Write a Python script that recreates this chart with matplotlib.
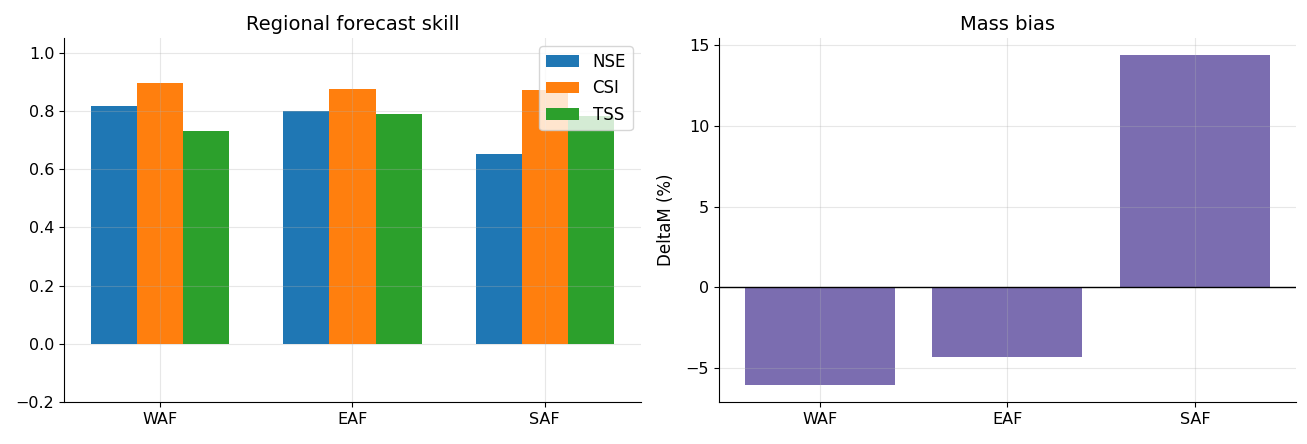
import numpy as np
import matplotlib
matplotlib.use('Agg')
import matplotlib.pyplot as plt

regions = ['WAF', 'EAF', 'SAF']
nse = [0.817, 0.800, 0.651]
csi = [0.897, 0.876, 0.873]
tss = [0.731, 0.790, 0.783]
delta_m = [-6.07, -4.28, 14.40]

fig = plt.figure(figsize=(13.07, 4.44), dpi=100)
ax1 = fig.add_axes([0.049, 0.0946, 0.4414, 0.8198])
ax2 = fig.add_axes([0.550, 0.0946, 0.4416, 0.8198])

x = np.arange(len(regions))
w = 0.24
ax1.bar(x - w, nse, w, label='NSE', color='#1f77b4')
ax1.bar(x, csi, w, label='CSI', color='#ff7f0e')
ax1.bar(x + w, tss, w, label='TSS', color='#2ca02c')
ax1.set_xticks(x)
ax1.set_xticklabels(regions)
ax1.set_xlim(-0.5, 2.5)
ax1.set_ylim(-0.2, 1.05)
ax1.set_title('Regional forecast skill', fontsize=14)
ax1.legend(loc='upper right', fontsize=12)
ax1.grid(True, alpha=0.3)

ax2.bar(x, delta_m, 0.8, color='#7b6db0')
ax2.axhline(0, color='black', linewidth=1)
ax2.set_xticks(x)
ax2.set_xticklabels(regions)
ax2.set_ylabel('DeltaM (%)', fontsize=12, labelpad=8)
ax2.set_title('Mass bias', fontsize=14)
ax2.grid(True, alpha=0.3)

for ax in (ax1, ax2):
    ax.spines['top'].set_visible(False)
    ax.spines['right'].set_visible(False)
    ax.tick_params(labelsize=11.5)

fig.savefig('out.png', dpi=100)
